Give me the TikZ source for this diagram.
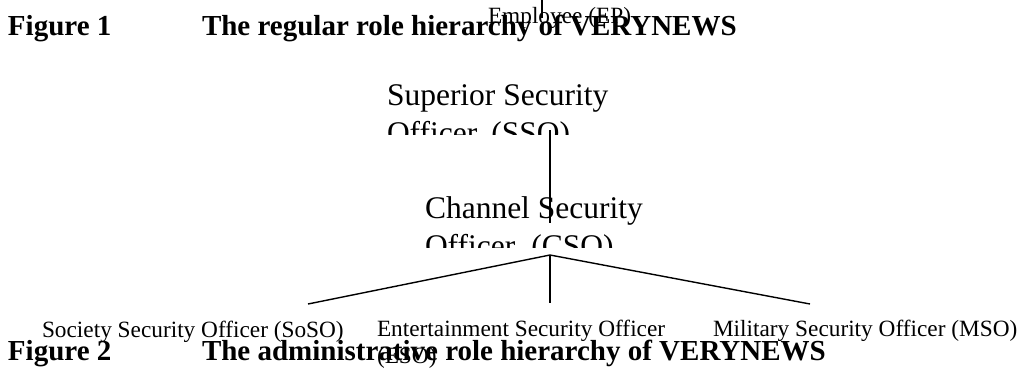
\documentclass[tikz,border=0pt]{standalone}
\usepackage{fontspec}
\setmainfont{Liberation Serif}
\begin{document}
\begin{tikzpicture}[x=1pt,y=-1pt,
  txt/.style={inner sep=0pt,outer sep=0pt,anchor=base west},
  caption/.style={txt,font=\fontsize{29}{34}\selectfont\bfseries},
  bigrole/.style={txt,font=\fontsize{31.5}{38}\selectfont},
  smallrole/.style={txt,font=\fontsize{23.3}{27}\selectfont},
  link/.style={line width=1.4pt,black}]
\useasboundingbox (0,0) rectangle (1029,368);

% captions
\node[caption] (fig1) at (8,35) {Figure 1};
\node[caption] (cap1) at (202,35) {The regular role hierarchy of VERYNEWS};
\node[caption] (fig2) at (8,360) {Figure 2};
\node[caption] (cap2) at (202,360) {The administrative role hierarchy of VERYNEWS};

% employee role with its connector stub
\node[smallrole] (ep) at (488,23) {Employee (EP)};
\coordinate (epTop) at (542,0);
\coordinate (epEnd) at (542,18);
\draw[link] (epTop) -- (epEnd);

% superior security officer, second line cut off by its box
\node[bigrole] (sso) at (387,105) {Superior Security};
\begin{scope}
  \clip (380,110) rectangle (660,134);
  \node[bigrole] (sso2) at (387,143) {Officer\hspace{14pt}(SSO)};
\end{scope}

% channel security officer, second line cut off by its box
\node[bigrole] (cso) at (425,218) {Channel Security};
\begin{scope}
  \clip (420,224) rectangle (700,247);
  \node[bigrole] (cso2) at (425,256) {Officer\hspace{16pt}(CSO)};
\end{scope}

% leaf roles
\node[smallrole] (soso) at (42,337) {Society Security Officer (SoSO)};
\node[smallrole] (eso) at (377,336) {Entertainment Security Officer};
\node[smallrole] (eso2) at (377,363) {(ESO)};
\node[smallrole] (mso) at (713,336) {Military Security Officer (MSO)};

% connectors
\coordinate (ssoFoot) at (550,130);
\coordinate (csoHead) at (550,223);
\coordinate (apex) at (550,255);
\coordinate (sosoTop) at (308,304);
\coordinate (esoTop) at (550,303);
\coordinate (msoTop) at (810,304);
\draw[link] (ssoFoot) -- (csoHead);
\draw[link] (apex) -- (sosoTop);
\draw[link] (apex) -- (esoTop);
\draw[link] (apex) -- (msoTop);
\end{tikzpicture}
\end{document}
